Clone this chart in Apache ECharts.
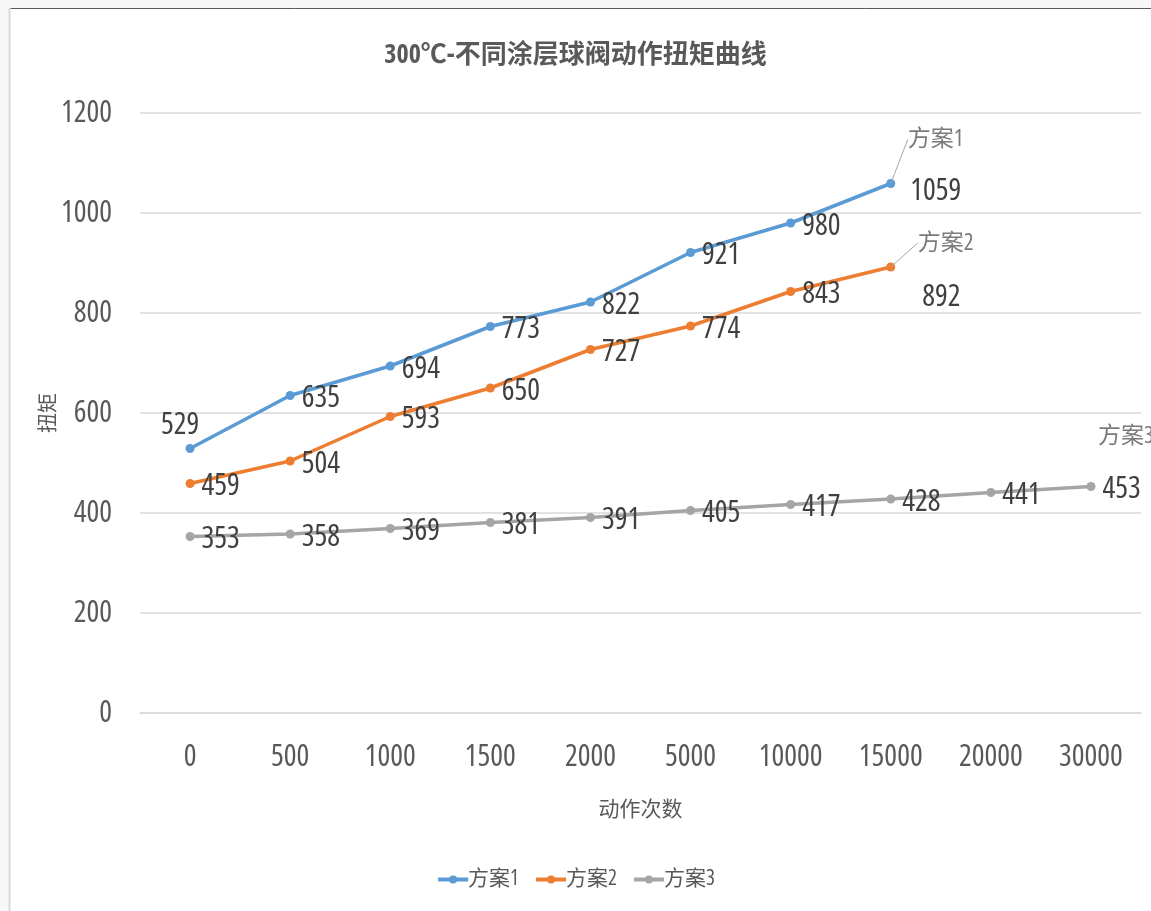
<!DOCTYPE html>
<html>
<head>
<meta charset="utf-8">
<script src="https://cdn.jsdelivr.net/npm/echarts@6/dist/echarts.min.js"></script>
<style>
  html, body { margin: 0; padding: 0; background: #f7f7f7; }
  #chart { width: 1151px; height: 911px; }
</style>
</head>
<body>
<div id="chart"></div>
<script>
// 动作次数
const categories = ['0', '500', '1000', '1500', '2000', '5000', '10000', '15000', '20000', '30000'];
// 扭矩
const plan1 = [529, 635, 694, 773, 822, 921, 980, 1059, null, null];
const plan2 = [459, 504, 593, 650, 727, 774, 843, 892, null, null];
const plan3 = [353, 358, 369, 381, 391, 405, 417, 428, 441, 453];
const seriesNames = ['方案1', '方案2', '方案3'];
const yTicks = { min: 0, max: 1200, interval: 200 };

const colors = ['#5b9bd5', '#ed7d31', '#a5a5a5'];
// narrow latin face (condensed width), CJK falls back to Noto Sans CJK
const FONT = '"Open Sans", "Noto Sans CJK SC", sans-serif';
const STRETCH = 'condensed';

// per-point label placement tweaks: [seriesIndex][pointIndex] -> settings
const labelTweaks = {
  0: { 0: { position: 'top', distance: 4, offset: [-10, 0] }, 7: { offset: [8, 8] } },
  1: { 7: { offset: [20, 30] } },
  2: {}
};
// series name tags placed near the last point of each line
const nameTagShift = [[12, -44], [22, -24], [2, -50]];

const allSeries = [plan1, plan2, plan3];

function lastIndex(arr) {
  for (let i = arr.length - 1; i >= 0; i--) if (arr[i] != null) return i;
  return -1;
}

const lineSeries = allSeries.map((vals, s) => ({
  name: seriesNames[s],
  type: 'line',
  data: vals.map((v, i) => {
    const t = labelTweaks[s][i];
    return t ? { value: v, label: Object.assign({}, t) } : v;
  }),
  color: colors[s],
  symbol: 'circle',
  symbolSize: 9,
  lineStyle: { width: 3.5, color: colors[s] },
  itemStyle: { color: colors[s] },
  connectNulls: false,
  label: {
    show: true,
    position: 'right',
    distance: 7,
    offset: [0, 3],
    color: '#404040',
    fontSize: 30,
    fontStyle: STRETCH,
    fontFamily: FONT
  },
  emphasis: { disabled: true },
  z: 3 - s
}));

const tagSeries = allSeries.map((vals, s) => {
  const k = lastIndex(vals);
  return {
    name: seriesNames[s] + '-tag',
    type: 'scatter',
    data: [[categories[k], vals[k]]],
    symbolSize: 0,
    silent: true,
    label: {
      show: true,
      position: 'right',
      distance: 5,
      formatter: () => seriesNames[s],
      color: '#595959',
      fontSize: 23,
      fontStyle: STRETCH,
      fontFamily: FONT
    },
    labelLayout: { dx: nameTagShift[s][0], dy: nameTagShift[s][1] },
    labelLine: { show: s !== 2, lineStyle: { color: '#a6a6a6', width: 1 } },
    z: 5
  };
});

const chart = echarts.init(document.getElementById('chart'));
chart.setOption({
  backgroundColor: 'transparent',
  animation: false,
  graphic: [
    { type: 'rect', shape: { x: 9, y: 8, width: 1142, height: 903 }, style: { fill: '#ffffff' }, z: -10, silent: true },
    { type: 'line', shape: { x1: 9, y1: 8.5, x2: 1151, y2: 8.5 }, style: { stroke: '#595959', lineWidth: 1 }, z: -9, silent: true },
    { type: 'line', shape: { x1: 9.5, y1: 8, x2: 9.5, y2: 911 }, style: { stroke: '#d9d9d9', lineWidth: 2 }, z: -9, silent: true }
  ],
  title: {
    text: '300℃-不同涂层球阀动作扭矩曲线',
    left: 'center',
    top: 38,
    textStyle: { fontSize: 26, fontWeight: 'bold', fontStyle: STRETCH, color: '#595959', fontFamily: FONT }
  },
  legend: {
    data: seriesNames,
    bottom: 16,
    left: 'center',
    itemWidth: 30,
    itemHeight: 10,
    itemGap: 15,
    lineStyle: { width: 4 },
    textStyle: { fontSize: 21, fontStyle: STRETCH, color: '#595959', fontFamily: FONT, padding: [0, 0, 0, -5] }
  },
  grid: { left: 140, right: 10, top: 113, bottom: 198, containLabel: false },
  xAxis: {
    type: 'category',
    data: categories,
    boundaryGap: true,
    name: '动作次数',
    nameLocation: 'middle',
    nameGap: 87,
    nameMoveOverlap: false,
    nameTextStyle: { fontSize: 21, color: '#595959', fontFamily: FONT },
    axisLine: { show: true, lineStyle: { color: '#d9d9d9', width: 1.5 } },
    axisTick: { show: false },
    axisLabel: { color: '#595959', fontSize: 30, fontStyle: STRETCH, fontFamily: FONT, margin: 29, interval: 0 },
    splitLine: { show: false }
  },
  yAxis: {
    type: 'value',
    min: yTicks.min,
    max: yTicks.max,
    interval: yTicks.interval,
    name: '扭矩',
    nameLocation: 'middle',
    nameGap: 81,
    nameMoveOverlap: false,
    nameTextStyle: { fontSize: 20, color: '#595959', fontFamily: FONT },
    axisLine: { show: false },
    axisTick: { show: false },
    axisLabel: { color: '#595959', fontSize: 30, fontStyle: STRETCH, fontFamily: FONT, margin: 28, formatter: v => String(v) },
    splitLine: { lineStyle: { color: '#d9d9d9', width: 1.5 } }
  },
  series: lineSeries.concat(tagSeries)
});
</script>
</body>
</html>
